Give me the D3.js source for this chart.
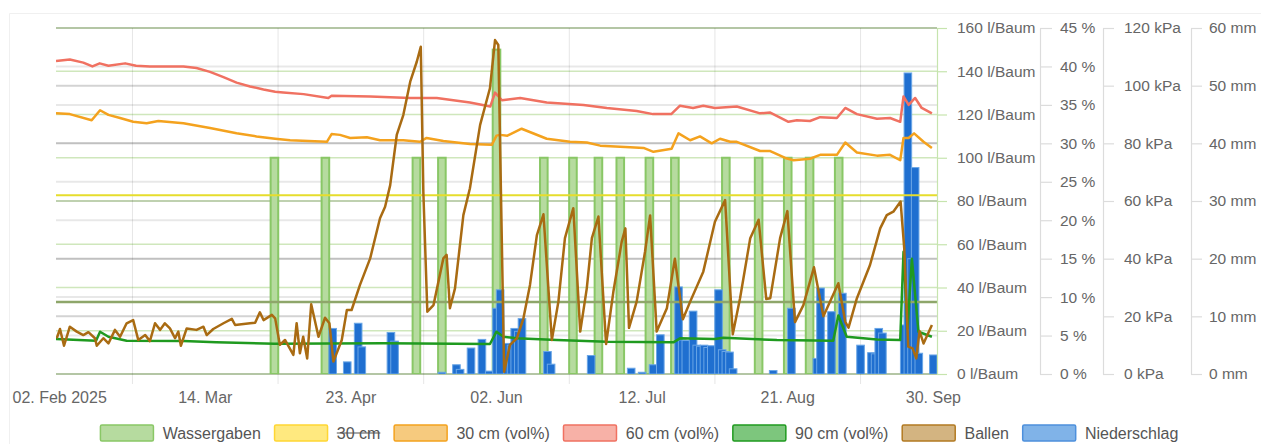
<!DOCTYPE html>
<html>
<head>
<meta charset="utf-8">
<script src="https://cdn.jsdelivr.net/npm/d3@7"></script>
<style>
  body { margin: 0; background: #fff; }
  svg { display: block; font-family: "Liberation Sans", Arial, sans-serif; }
</style>
</head>
<body>
<svg id="chart" width="1261" height="444"></svg>
<script>
// all series are [day since 01 Feb 2025, value]
const startDate = new Date(2025, 1, 1);
const endDate = new Date(2025, 9, 1);

const xTickDates = ['2025-02-02', '2025-03-14', '2025-04-23', '2025-06-02', '2025-07-12', '2025-08-21', '2025-09-30'];
const xTickLabels = ['02. Feb 2025', '14. Mar', '23. Apr', '02. Jun', '12. Jul', '21. Aug', '30. Sep'];
const xGridDates = ['2025-02-22', '2025-04-03', '2025-05-13', '2025-06-22', '2025-08-01', '2025-09-10'];

const waterTicks = [0, 20, 40, 60, 80, 100, 120, 140, 160];
const volTicks = [0, 5, 10, 15, 20, 25, 30, 35, 40, 45];
const kpaTicks = [0, 20, 40, 60, 80, 100, 120];
const rainTicks = [0, 10, 20, 30, 40, 50, 60];

const legendNames = ['Wassergaben', '30 cm', '30 cm (vol%)', '60 cm (vol%)', '90 cm (vol%)', 'Ballen', 'Niederschlag'];

// l/Baum
const wassergaben = [
  [60, 100], [74, 100], [99, 100], [106, 100], [121, 150], [134, 100], [142, 100], [149, 100],
  [155, 100], [163, 100], [170, 100], [184, 100], [193, 100], [201, 100], [207, 100], [215, 100]
];

// kPa, horizontal marks
const line30cm = 62;
const ballenLimit = 25;

// vol%
const soil30 = [
  [0, 33.9], [3.8, 33.8], [9.8, 33.0], [12.1, 34.3], [14.4, 33.7], [17.6, 33.3], [21.2, 32.8], [24.9, 32.6],
  [28.1, 32.9], [35, 32.6], [42.3, 32.0], [49.6, 31.3], [55.1, 30.9], [60.2, 30.6], [64.3, 30.4], [74.4, 30.2],
  [75.7, 31.2], [78, 31.1], [80.8, 30.7], [85.4, 30.8], [89, 30.4], [95.4, 30.4], [100, 30.2], [101.8, 30.7],
  [106.4, 30.3], [113.7, 29.9], [119.7, 29.8], [121, 31.0], [122, 31.1], [124, 31.0], [127.9, 31.9], [134.8, 30.6],
  [141.2, 30.2], [145.8, 30.1], [149.5, 29.7], [157.7, 29.5], [161.4, 29.4], [164.1, 28.9], [169.1, 29.3], [171, 31.3],
  [174.2, 30.4], [176.9, 30.9], [180.1, 30.0], [182.4, 30.6], [185.2, 30.2], [187, 30.2], [193.4, 29.0], [196.2, 29.0],
  [200.3, 28.1], [202.6, 27.8], [207.1, 28.0], [209.9, 28.5], [214.5, 28.5], [216.8, 30.1], [220, 28.8], [225.5, 28.4],
  [229.1, 28.5], [231.9, 27.8], [232.8, 30.7], [234.2, 30.7], [235.7, 31.3], [238.3, 30.2], [240.6, 29.4]
];

const soil60 = [
  [0, 40.7], [3.8, 40.9], [7.5, 40.5], [10, 40.0], [12, 40.4], [14.4, 40.1], [19, 40.4], [22, 40.1],
  [25.8, 40.0], [35, 40.0], [38.6, 39.8], [42.3, 39.3], [46, 38.6], [49.6, 37.9], [53.3, 37.4], [57, 37.0],
  [60.2, 36.7], [62.4, 36.6], [68, 36.4], [74.8, 35.9], [75.7, 36.2], [86.3, 36.1], [97.3, 35.9], [104.6, 35.9],
  [113.7, 35.3], [119.3, 34.8], [120.6, 36.6], [122.5, 35.6], [127.5, 35.9], [134.8, 35.3], [144.9, 35.0], [151.3, 34.6],
  [159.5, 34.2], [164, 33.8], [169, 33.8], [171.4, 34.9], [175, 34.6], [177.8, 34.9], [181, 34.6], [187, 34.8],
  [193.4, 33.9], [196.2, 34.0], [201.2, 32.8], [203.5, 33.0], [207.1, 32.9], [209.9, 33.4], [214.5, 33.3], [216.8, 34.6],
  [220, 33.8], [225.5, 33.2], [229.1, 33.3], [231.9, 32.8], [232.8, 36.1], [234.2, 35.0], [236, 35.9], [237.8, 34.6],
  [240.6, 33.9]
];

const soil90 = [
  [0, 4.55], [11, 4.33], [12.1, 5.5], [14.4, 4.85], [19.4, 4.33], [35, 4.3], [44, 4.12], [60, 3.95],
  [90, 4.0], [119.2, 3.9], [121, 5.5], [122.9, 4.85], [126.6, 4.64], [137.6, 4.42], [151.3, 4.2], [169.6, 4.12],
  [171.4, 4.64], [181, 4.55], [183.3, 4.72], [198, 4.42], [213.5, 4.33], [214.9, 7.6], [217.2, 4.85], [225.5, 4.5],
  [231.9, 4.42], [232.8, 15.9], [233.9, 5.9], [235.1, 15.0], [236.9, 5.5], [240.6, 4.85]
];

// kPa
const ballen = [
  [0.2, 12.4], [1.1, 15.6], [2.2, 9.8], [3.8, 16.4], [5.7, 14.7], [7.5, 13.5], [8.9, 14.5], [10.7, 12.4],
  [11.2, 9.8], [13, 12.4], [14.4, 10.6], [16.2, 15.3], [17.6, 12.9], [19.4, 17.6], [21.2, 18.7], [22.6, 11.8],
  [24.5, 13.5], [25.8, 11.4], [27.2, 17.6], [28.6, 15.3], [29.9, 17.6], [31.3, 15.8], [32.7, 12.4], [33.6, 14.7],
  [34.3, 9.8], [35.9, 15.8], [38.6, 15.3], [40.5, 16.4], [41.4, 13.5], [43.2, 15.6], [46, 17.6], [48.3, 19.1],
  [49.2, 17.0], [53.3, 17.6], [54.7, 17.8], [56, 21.4], [57, 18.7], [59.3, 20.5], [60.2, 19.3], [61.5, 10.1],
  [62.9, 11.8], [65.2, 6.6], [66.1, 17.6], [67, 7.2], [67.9, 12.9], [69, 5.4], [70.1, 24.2], [72.1, 12.9],
  [73.9, 19.5], [75.1, 17.6], [76.2, 4.3], [78.5, 11.8], [79.9, 22.2], [81.2, 22.2], [83.5, 30.9], [86.3, 40.1],
  [89, 54.0], [90.4, 58.0], [91.8, 65.5], [93.6, 82.9], [95.4, 89.8], [97.3, 101.4], [99.1, 108.3], [100.2, 113.5],
  [100.9, 63.2], [102, 21.6], [103.7, 23.9], [106.4, 40.1], [107.3, 41.3], [108.2, 22.8], [109.6, 29.7], [111.9, 55.1],
  [113.7, 64.4], [116.5, 86.4], [119.2, 99.1], [120.6, 115.8], [121.5, 114.1], [123.1, 0.8], [124.7, 10.1], [126.6, 12.4],
  [128.4, 19.3], [130.2, 30.9], [132.1, 48.2], [133.9, 55.4], [136.2, 11.8], [138, 25.1], [139.8, 47.1], [142.1, 57.5],
  [144, 14.7], [145.8, 29.7], [147.2, 47.1], [149, 54.6], [151.1, 10.4], [153.1, 28.5], [155.4, 45.9], [156.4, 50.5],
  [157.4, 16.0], [159.5, 25.1], [161.8, 42.4], [163.2, 55.0], [165, 14.7], [167.8, 22.8], [170, 40.0], [172.2, 19.0],
  [174.2, 25.1], [177.8, 35.5], [181, 52.8], [183.8, 60.3], [185.9, 13.8], [187.9, 26.3], [190.7, 47.1], [193, 53.5],
  [195.1, 26.0], [196.2, 26.3], [198.9, 47.1], [200.9, 56.5], [203, 18.0], [205.3, 23.9], [208.2, 37.0], [210.8, 20.0],
  [214.9, 31.5], [216.8, 18.1], [217.7, 16.1], [220, 26.3], [223.6, 37.8], [226.4, 50.5], [228.2, 55.1], [230, 56.3],
  [232, 59.8], [233, 43.6], [234.1, 9.5], [235.3, 8.9], [236.3, 5.4], [237.2, 14.9], [238.3, 10.6], [240.6, 17.0]
];

// mm
const niederschlag = [
  [76, 7.9], [80, 2.1], [83, 8.8], [84, 4.7], [92, 7.2], [93, 5.7], [106, 0.3], [110, 1.6],
  [111, 0.8], [114, 4.5], [117, 6.0], [119, 0.5], [121, 11.4], [122, 14.6], [124, 5.3], [125, 5.0],
  [126, 7.9], [127, 7.4], [128, 9.6], [135, 3.9], [136, 1.7], [147, 3.2], [158, 1.0], [161, 0.3],
  [164, 1.6], [166, 6.8], [171, 15.1], [172, 5.9], [173, 5.8], [175, 10.9], [176, 5.0], [177, 4.8],
  [178, 5.0], [179, 4.6], [180, 4.9], [182, 14.6], [183, 4.2], [184, 3.9], [185, 3.8], [186, 0.9],
  [197, 0.6], [202, 11.4], [209, 2.7], [210, 14.9], [213, 10.8], [216, 14.0], [221, 5.0], [224, 3.7],
  [225, 3.5], [226, 7.9], [227, 7.1], [233, 8.5], [234, 52.2], [235, 20.0], [236, 35.8], [237, 3.6],
  [241, 3.3]
];

const colors = {
  water: '#89c766', waterFill: '#b6db9f',
  yellow: '#e6dd2c', yellowFill: '#ffe97f',
  soil30: '#f4a21e', soil30Fill: '#f6ca7e',
  soil60: '#f07161', soil60Fill: '#f7b1a7',
  soil90: '#1f9a1f', soil90Fill: '#7dc67d',
  ballen: '#a96b12', ballenFill: '#d3b481',
  rain: '#1f6fd0', rainFill: '#80b3e8', rainEdge: '#4d90dc',
  limit: '#8ea66a', text: '#666'
};

const plot = { left: 56, right: 937, top: 28, bottom: 374 };
const dayToDate = d => new Date(startDate.getTime() + d * 864e5);

const x = d3.scaleTime().domain([startDate, endDate]).range([plot.left, plot.right]);
const yWater = d3.scaleLinear().domain([0, 160]).range([plot.bottom, plot.top]);
const yVol = d3.scaleLinear().domain([0, 45]).range([plot.bottom, plot.top]);
const yKpa = d3.scaleLinear().domain([0, 120]).range([plot.bottom, plot.top]);
const yRain = d3.scaleLinear().domain([0, 60]).range([plot.bottom, plot.top]);

const svg = d3.select('#chart');
const parse = d3.timeParse('%Y-%m-%d');

svg.append('defs').append('clipPath').attr('id', 'plot-clip')
  .append('rect')
  .attr('x', plot.left).attr('y', plot.top - 5)
  .attr('width', plot.right - plot.left).attr('height', plot.bottom - plot.top + 5);

// faint card border
svg.append('path')
  .attr('d', 'M9.5,444 V13.5 H1261')
  .attr('fill', 'none').attr('stroke', '#f0f0f0');

// grid lines
const grid = svg.append('g');
[[yVol, volTicks], [yKpa, kpaTicks], [yRain, rainTicks]].forEach(([scale, ticks]) => {
  grid.append('g').selectAll('line').data(ticks).join('line')
    .attr('x1', plot.left).attr('x2', plot.right)
    .attr('y1', d => scale(d)).attr('y2', d => scale(d))
    .attr('stroke', '#000').attr('stroke-opacity', 0.09).attr('stroke-width', 2);
});
grid.append('g').selectAll('line').data(waterTicks).join('line')
  .attr('x1', plot.left).attr('x2', plot.right)
  .attr('y1', d => yWater(d)).attr('y2', d => yWater(d))
  .attr('stroke', '#9fd07a').attr('stroke-opacity', 0.5).attr('stroke-width', 1.5);

grid.append('g').selectAll('line').data(xGridDates.map(parse)).join('line')
  .attr('x1', d => x(d)).attr('x2', d => x(d))
  .attr('y1', plot.top).attr('y2', plot.bottom + 10)
  .attr('stroke', '#000').attr('stroke-opacity', 0.1);

// x labels
svg.append('g').selectAll('text').data(xTickDates).join('text')
  .attr('x', d => x(parse(d)))
  .attr('y', 403)
  .attr('text-anchor', 'middle')
  .attr('font-size', 16)
  .attr('fill', colors.text)
  .text((d, i) => xTickLabels[i]);

const plotG = svg.append('g').attr('clip-path', 'url(#plot-clip)');
const barW = 7.6;

// Wassergaben columns
plotG.append('g').selectAll('rect').data(wassergaben).join('rect')
  .attr('x', d => x(dayToDate(d[0])) - barW / 2)
  .attr('y', d => yWater(d[1]))
  .attr('width', barW)
  .attr('height', d => yWater(0) - yWater(d[1]))
  .attr('fill', colors.waterFill)
  .attr('stroke', colors.water).attr('stroke-width', 2);

// Niederschlag columns
plotG.append('g').selectAll('rect').data(niederschlag).join('rect')
  .attr('x', d => x(dayToDate(d[0])) - barW / 2)
  .attr('y', d => yRain(d[1]))
  .attr('width', barW)
  .attr('height', d => yRain(0) - yRain(d[1]))
  .attr('fill', colors.rain)
  .attr('stroke', '#6aa6e6').attr('stroke-width', 1);

// horizontal marks
plotG.append('line')
  .attr('x1', plot.left).attr('x2', plot.right)
  .attr('y1', yKpa(line30cm)).attr('y2', yKpa(line30cm))
  .attr('stroke', colors.yellow).attr('stroke-width', 2);
plotG.append('line')
  .attr('x1', plot.left).attr('x2', plot.right)
  .attr('y1', yKpa(ballenLimit)).attr('y2', yKpa(ballenLimit))
  .attr('stroke', colors.limit).attr('stroke-width', 2.5);

// lines
const lineOf = scale => d3.line()
  .x(d => x(dayToDate(d[0])))
  .y(d => scale(d[1]));

[[soil30, yVol, colors.soil30], [soil60, yVol, colors.soil60],
 [soil90, yVol, colors.soil90], [ballen, yKpa, colors.ballen]].forEach(([data, scale, c]) => {
  plotG.append('path')
    .datum(data)
    .attr('d', lineOf(scale))
    .attr('fill', 'none')
    .attr('stroke', c)
    .attr('stroke-width', 2.5)
    .attr('stroke-linejoin', 'round');
});

// right axes
function rightAxis(scale, ticks, xPos, size, pad, unit, lineColor) {
  const g = svg.append('g')
    .attr('transform', `translate(${xPos},0)`)
    .call(d3.axisRight(scale).tickValues(ticks).tickSize(size).tickPadding(pad)
      .tickSizeOuter(0).tickFormat(d => d + unit));
  g.select('.domain').attr('stroke', lineColor).attr('stroke-width', 1.2);
  g.selectAll('.tick line').attr('stroke', lineColor).attr('stroke-width', 1.2);
  g.selectAll('text')
    .attr('fill', colors.text)
    .attr('font-size', 15.5)
    .attr('font-family', '"Liberation Sans", Arial, sans-serif');
  return g;
}
rightAxis(yWater, waterTicks, plot.right, 10, 10, ' l/Baum', '#c6e4ae');
rightAxis(yVol, volTicks, 1040, 12, 8, ' %', '#dcdcdc');
rightAxis(yKpa, kpaTicks, 1103, 11, 10, ' kPa', '#dcdcdc');
rightAxis(yRain, rainTicks, 1191, 11, 7, ' mm', '#dcdcdc');

// legend
const legendStyles = [
  [colors.waterFill, colors.water], [colors.yellowFill, '#ffd633'],
  [colors.soil30Fill, colors.soil30], [colors.soil60Fill, colors.soil60],
  [colors.soil90Fill, colors.soil90], [colors.ballenFill, '#b27a22'],
  [colors.rainFill, colors.rainEdge]
];
const legend = svg.append('g');
let lx = 0;
legendNames.forEach((name, i) => {
  const g = legend.append('g').attr('transform', `translate(${lx},0)`);
  g.append('rect')
    .attr('x', 0.75).attr('y', 425).attr('width', 53).attr('height', 16).attr('rx', 1.5)
    .attr('fill', legendStyles[i][0]).attr('stroke', legendStyles[i][1]).attr('stroke-width', 1.5);
  const t = g.append('text')
    .attr('x', 63).attr('y', 438.5)
    .attr('font-size', 16).attr('fill', '#555')
    .text(name);
  const w = t.node().getComputedTextLength();
  if (name === '30 cm') {
    g.append('line').attr('x1', 63).attr('x2', 63 + w)
      .attr('y1', 433).attr('y2', 433)
      .attr('stroke', '#555').attr('stroke-width', 1.2);
  }
  lx += 63 + w + 13;
});
const legendW = lx - 13;
legend.attr('transform', `translate(${639 - legendW / 2},0)`);
</script>
</body>
</html>
